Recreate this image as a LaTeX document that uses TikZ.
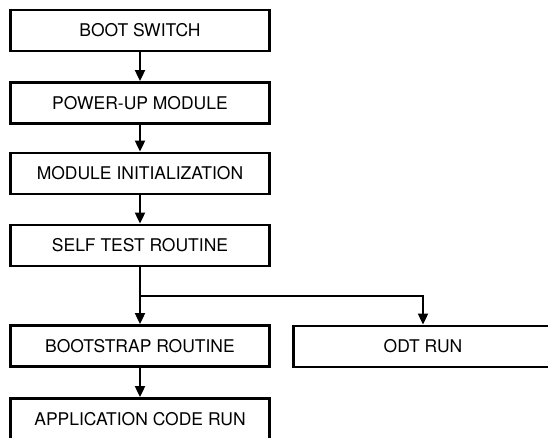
\documentclass[tikz,border=0pt]{standalone}
\usepackage{fontspec}
\setmainfont{TeX Gyre Heros}
\usetikzlibrary{arrows.meta}
\begin{document}
\begin{tikzpicture}[x=1pt,y=-1pt,
  box/.style={draw, line width=2.8pt, minimum width=259pt, minimum height=41pt, inner sep=0pt,
    font=\fontsize{17.5}{19}\selectfont},
  conn/.style={line width=1.9pt, -{Triangle[length=11pt,width=10pt]}},
  wire/.style={line width=1.9pt}]
\useasboundingbox (0,0) rectangle (548,438);
\node[box] (b1) at (140,30.5) {BOOT SWITCH};
\node[box] (b2) at (140,103) {POWER-UP MODULE};
\node[box] (b3) at (140,173.5) {MODULE INITIALIZATION};
\node[box] (b4) at (140,245.5) {SELF TEST ROUTINE};
\node[box] (b5) at (140,346) {BOOTSTRAP ROUTINE};
\node[box] (b6) at (140,419) {APPLICATION CODE RUN};
\node[box] (odt) at (423,346.5) {ODT RUN};
\coordinate (j) at (140,296);
\draw[conn] (b1) -- (b2);
\draw[conn] (b2) -- (b3);
\draw[conn] (b3) -- (b4);
\draw[wire] (b4.south) -- (j);
\draw[conn] (j) -- (b5);
\draw[conn] (j) -| (odt.north);
\draw[conn] (b5) -- (b6);
\end{tikzpicture}
\end{document}
